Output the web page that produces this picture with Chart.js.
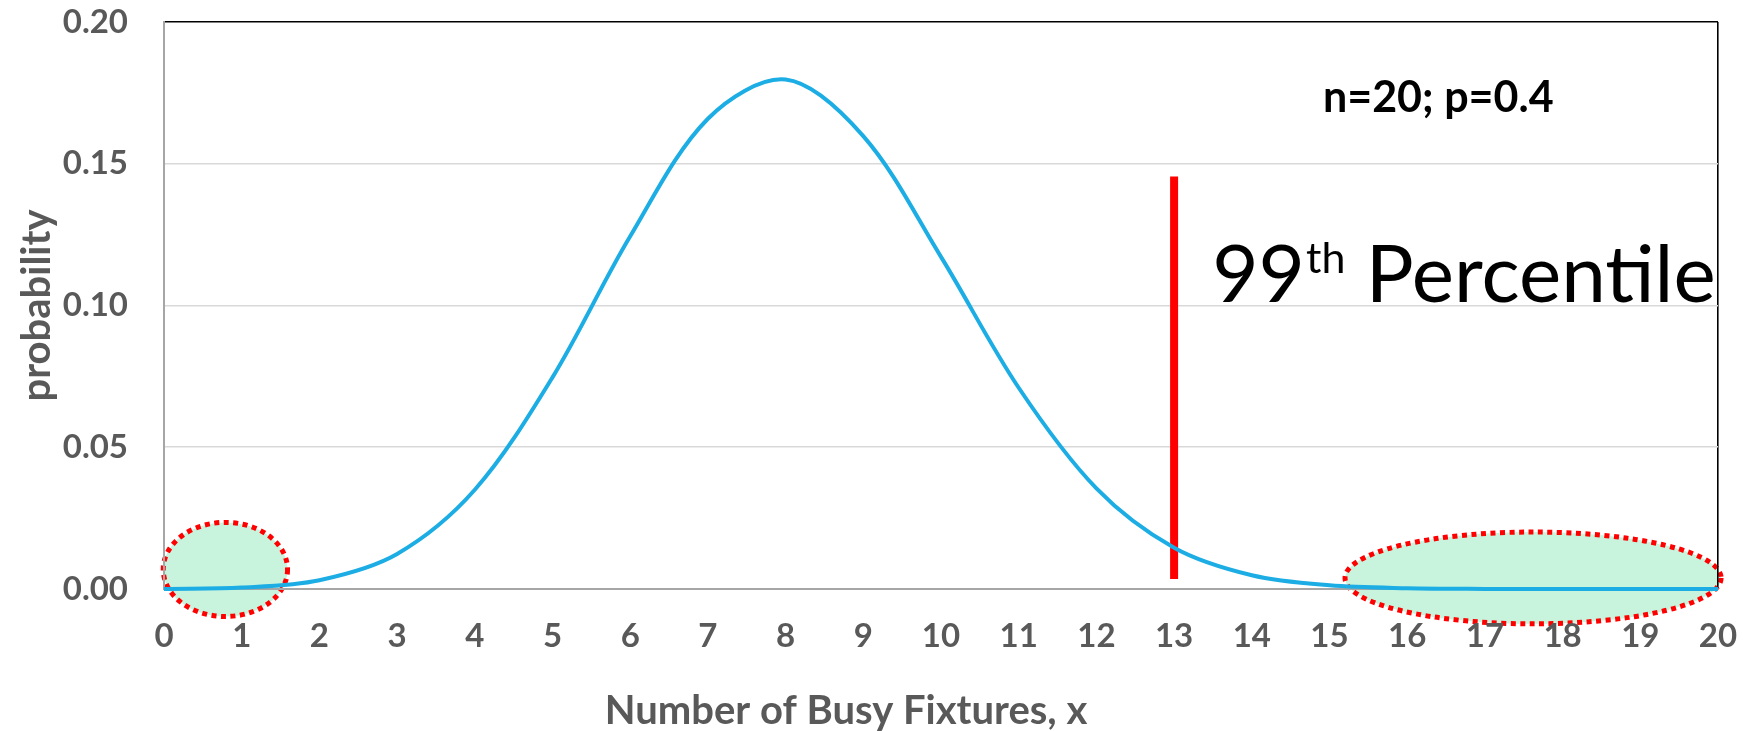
<!DOCTYPE html>
<html>
<head>
<meta charset="utf-8">
<script src="https://cdn.jsdelivr.net/npm/chart.js@4.4.1/dist/chart.umd.min.js"></script>
<style>
  html, body { margin: 0; padding: 0; background: #ffffff; overflow: hidden; }
  #wrap { width: 1743px; height: 731px; position: relative; }
</style>
</head>
<body>
<div id="wrap"><canvas id="chart"></canvas></div>
<script>
// ---- data ----
const xValues = [0, 1, 2, 3, 4, 5, 6, 7, 8, 9, 10, 11, 12, 13, 14, 15, 16, 17, 18, 19, 20];
const probability = [0.00004, 0.00049, 0.00309, 0.01235, 0.03499, 0.07465, 0.12441, 0.16588,
  0.17971, 0.15974, 0.11714, 0.07099, 0.03550, 0.01456, 0.00485, 0.00129, 0.00027, 0.00004,
  0.000005, 0.0000003, 0.0];
const xTickValues = [0, 1, 2, 3, 4, 5, 6, 7, 8, 9, 10, 11, 12, 13, 14, 15, 16, 17, 18, 19, 20];
const yTickValues = [0, 0.05, 0.10, 0.15, 0.20];
const percentileX = [13, 13];
const percentileY = [0.0035, 0.1455];
// highlighted tail regions (ellipses) in data units
const ellipseCenterX = [0.79, 17.62];
const ellipseCenterY = [0.0069, 0.0039];
const ellipseRadiusX = [0.80, 2.42];
const ellipseRadiusY = [0.0166, 0.0162];
const annotationText = 'n=20; p=0.4';
const percentileLabel = ['99', 'th', ' Percentile'];
const xTitle = 'Number of Busy Fixtures, x';
const yTitle = 'probability';

const FONT = 'Lato, "Open Sans", "DejaVu Sans", sans-serif';
const GREY = '#595959';

const tailHighlights = {
  id: 'tailHighlights',
  beforeDraw(chart) {
    const {ctx, scales: {x, y}} = chart;
    ctx.save();
    for (let i = 0; i < ellipseCenterX.length; i++) {
      const cx = x.getPixelForValue(ellipseCenterX[i]);
      const cy = y.getPixelForValue(ellipseCenterY[i]);
      const rx = Math.abs(x.getPixelForValue(ellipseCenterX[i] + ellipseRadiusX[i]) - cx);
      const ry = Math.abs(y.getPixelForValue(ellipseCenterY[i] + ellipseRadiusY[i]) - cy);
      ctx.beginPath();
      ctx.ellipse(cx, cy, rx, ry, 0, 0, Math.PI * 2);
      ctx.fillStyle = '#C8F3DD';
      ctx.fill();
      ctx.setLineDash([5, 4.5]);
      ctx.lineWidth = 5;
      ctx.lineCap = 'butt';
      ctx.strokeStyle = '#FF0000';
      ctx.stroke();
    }
    ctx.restore();
  }
};

const textAnnotations = {
  id: 'textAnnotations',
  afterDraw(chart, args, opts) {
    const {ctx, scales: {x, y}} = chart;
    ctx.save();
    // parameter label
    ctx.fillStyle = '#000000';
    ctx.font = 'bold 43px ' + FONT;
    ctx.textAlign = 'center';
    ctx.textBaseline = 'alphabetic';
    ctx.fillText(annotationText, x.getPixelForValue(opts.paramAt[0]), y.getPixelForValue(opts.paramAt[1]));
    // 99th Percentile
    let px = x.getPixelForValue(opts.pctAt[0]);
    const py = y.getPixelForValue(opts.pctAt[1]);
    ctx.textAlign = 'left';
    ctx.font = '80px ' + FONT;
    ctx.fillText(percentileLabel[0], px, py);
    px += ctx.measureText(percentileLabel[0]).width + 1;
    ctx.font = '43px ' + FONT;
    ctx.fillText(percentileLabel[1], px, py - 29);
    px += ctx.measureText(percentileLabel[1]).width;
    ctx.font = '80px ' + FONT;
    ctx.fillText(percentileLabel[2], px, py);
    // x axis title
    ctx.fillStyle = GREY;
    ctx.font = 'bold 40px ' + FONT;
    ctx.textAlign = 'center';
    ctx.textBaseline = 'middle';
    ctx.fillText(xTitle, opts.xTitleAt[0], opts.xTitleAt[1]);
    ctx.restore();
  }
};

const curve = xValues.map((v, i) => ({x: v, y: probability[i]}));
const marker = percentileX.map((v, i) => ({x: v, y: percentileY[i]}));

new Chart(document.getElementById('chart'), {
  type: 'line',
  data: {
    datasets: [
      {
        label: 'probability',
        data: curve,
        borderColor: '#1CADE4',
        borderWidth: 4,
        pointRadius: 0,
        tension: 0.33,
        fill: false,
        clip: false
      },
      {
        label: '99th percentile',
        data: marker,
        borderColor: '#FF0000',
        borderWidth: 8,
        borderCapStyle: 'butt',
        pointRadius: 0,
        tension: 0,
        fill: false,
        clip: false
      }
    ]
  },
  options: {
    responsive: true,
    maintainAspectRatio: false,
    animation: false,
    layout: { padding: { top: 22, right: 25, left: 0, bottom: 0 } },
    plugins: {
      legend: { display: false },
      tooltip: { enabled: false },
      textAnnotations: {
        paramAt: [16.4, 0.1683],
        pctAt: [13.49, 0.1013],
        xTitleAt: [846, 711]
      }
    },
    scales: {
      x: {
        type: 'linear',
        min: 0,
        max: 20,
        afterBuildTicks: s => { s.ticks = xTickValues.map(v => ({value: v})); },
        afterFit: s => { s.height = 142; s.paddingLeft = 0; s.paddingRight = 0; },
        grid: {
          drawTicks: false,
          lineWidth: 1.6,
          color: ctx => (ctx.tick && ctx.tick.value === 20) ? '#000000' : 'rgba(0,0,0,0)'
        },
        border: { color: '#a6a6a6', width: 2 },
        ticks: {
          padding: 28,
          autoSkip: false,
          maxRotation: 0,
          color: GREY,
          font: { family: FONT, size: 33, weight: 'bold' },
          callback: v => String(v)
        }
      },
      y: {
        type: 'linear',
        min: 0,
        max: 0.2,
        afterBuildTicks: s => { s.ticks = yTickValues.map(v => ({value: v})); },
        afterFit: s => { s.width = 164; s.paddingTop = 0; s.paddingBottom = 0; },
        grid: {
          drawTicks: false,
          lineWidth: 1.6,
          color: ctx => {
            const v = ctx.tick ? ctx.tick.value : 0;
            if (Math.abs(v - 0.2) < 1e-9) return '#000000';
            if (Math.abs(v) < 1e-9) return 'rgba(0,0,0,0)';
            return '#d9d9d9';
          }
        },
        border: { color: '#a6a6a6', width: 2 },
        ticks: {
          padding: 36,
          color: GREY,
          font: { family: FONT, size: 33, weight: 'bold' },
          callback: v => Number(v).toFixed(2)
        },
        title: {
          display: true,
          text: yTitle,
          color: GREY,
          font: { family: FONT, size: 40, weight: 'bold', lineHeight: 1 },
          padding: { top: 17, bottom: 0 }
        }
      }
    }
  },
  plugins: [tailHighlights, textAnnotations]
});
</script>
</body>
</html>
